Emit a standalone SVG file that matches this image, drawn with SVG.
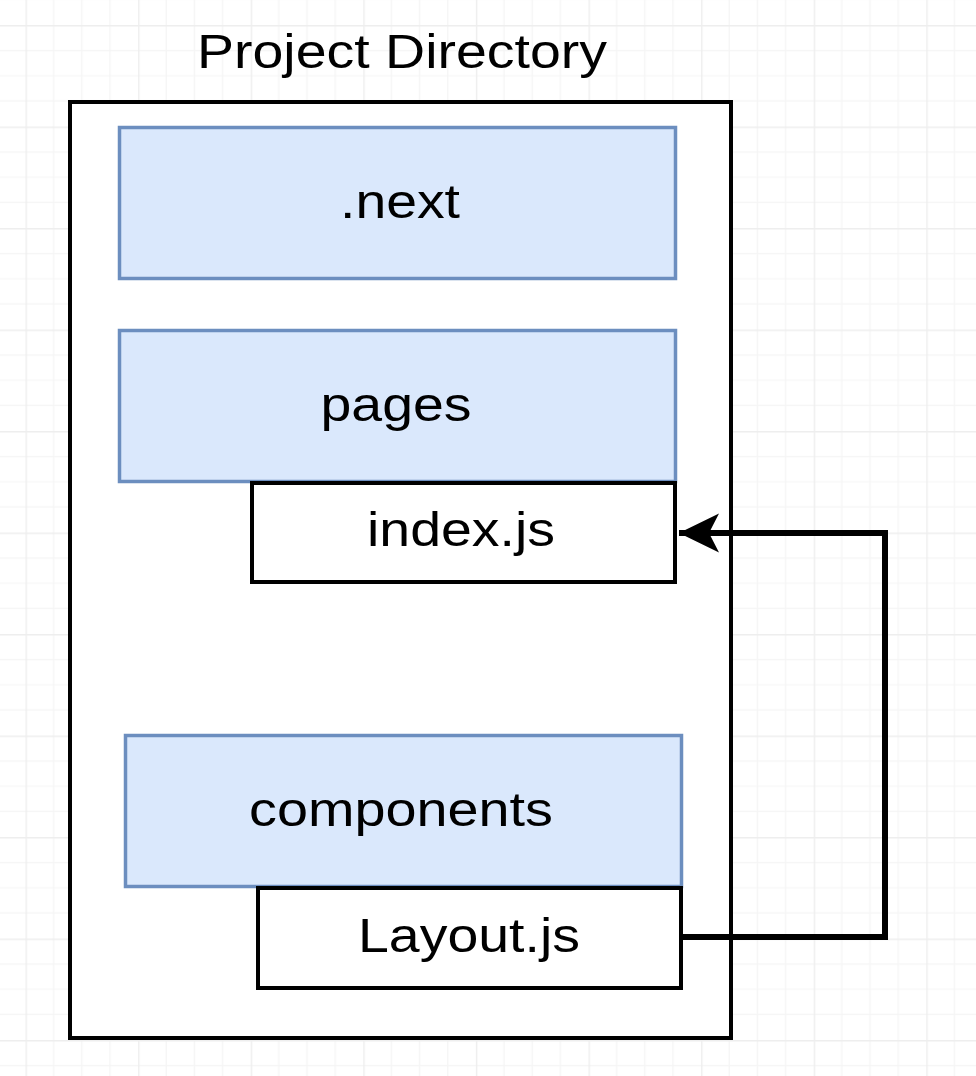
<svg xmlns="http://www.w3.org/2000/svg" width="976" height="1076" viewBox="0 0 976 1076">
  <defs>
    <pattern id="grid" patternUnits="userSpaceOnUse" x="25.5" y="25" width="112.6" height="101.5">
      <rect width="112.6" height="101.5" fill="#ffffff"/>
      <g stroke="#f5f5f5" stroke-width="1.2">
        <line x1="28.15" y1="0" x2="28.15" y2="101.5"/>
        <line x1="56.3" y1="0" x2="56.3" y2="101.5"/>
        <line x1="84.45" y1="0" x2="84.45" y2="101.5"/>
        <line x1="0" y1="25.4" x2="112.6" y2="25.4"/>
        <line x1="0" y1="50.75" x2="112.6" y2="50.75"/>
        <line x1="0" y1="76.1" x2="112.6" y2="76.1"/>
      </g>
      <g stroke="#eeeeee" stroke-width="1.4">
        <line x1="0.7" y1="0" x2="0.7" y2="101.5"/>
        <line x1="0" y1="0.7" x2="112.6" y2="0.7"/>
      </g>
    </pattern>
    <marker id="arrow" markerUnits="userSpaceOnUse" markerWidth="44" markerHeight="44" viewBox="0 0 44 44" refX="41" refY="22" orient="auto">
      <path d="M41,22 L1,2.5 L11,22 L1,41.5 Z" fill="#000000"/>
    </marker>
    <style>
      .folder { fill: #dae8fc; stroke: #6c8ebf; stroke-width: 3.5; }
      .file { fill: #ffffff; stroke: #000000; stroke-width: 4; }
      .container { fill: #ffffff; stroke: #000000; stroke-width: 4; }
      .lbl { font-family: "Liberation Sans", Arial, Helvetica, sans-serif; font-size: 49px; fill: #000000; text-anchor: middle; }
      .edge { fill: none; stroke: #000000; stroke-width: 6; stroke-linejoin: miter; }
    </style>
  </defs>

  <rect width="976" height="1076" fill="url(#grid)"/>

  <g id="project-directory">
    <rect class="container" x="70" y="102" width="661" height="936"/>
    <text class="lbl" x="402" y="68" textLength="410" lengthAdjust="spacingAndGlyphs">Project Directory</text>
  </g>

  <g id="next">
    <rect class="folder" x="119.5" y="127.5" width="556" height="151"/>
    <text class="lbl" x="400" y="218" textLength="120" lengthAdjust="spacingAndGlyphs">.next</text>
  </g>

  <g id="pages">
    <rect class="folder" x="119.5" y="330.5" width="556" height="151"/>
    <text class="lbl" x="396" y="421" textLength="151" lengthAdjust="spacingAndGlyphs">pages</text>
  </g>

  <g id="index-js">
    <rect class="file" x="252" y="483" width="423" height="99"/>
    <text class="lbl" x="461" y="546" textLength="188" lengthAdjust="spacingAndGlyphs">index.js</text>
  </g>

  <g id="components">
    <rect class="folder" x="125.5" y="735.5" width="556" height="151"/>
    <text class="lbl" x="401" y="826" textLength="304" lengthAdjust="spacingAndGlyphs">components</text>
  </g>

  <g id="layout-js">
    <rect class="file" x="258" y="888" width="423" height="100"/>
    <text class="lbl" x="469" y="952" textLength="222" lengthAdjust="spacingAndGlyphs">Layout.js</text>
  </g>

  <g id="connectors">
    <path class="edge" d="M683,937 L885,937 L885,533 L679,533" marker-end="url(#arrow)"/>
  </g>
</svg>
